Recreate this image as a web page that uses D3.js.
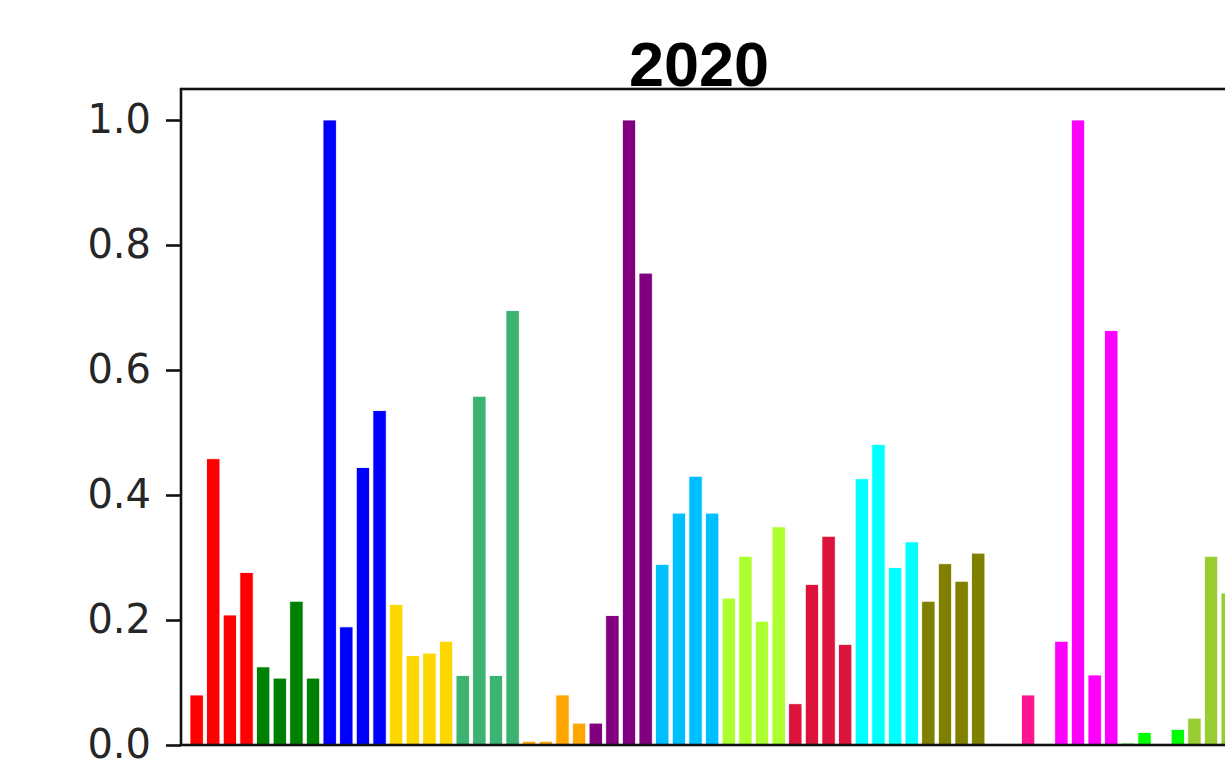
<!DOCTYPE html>
<html>
<head>
<meta charset="utf-8">
<script src="https://cdn.jsdelivr.net/npm/d3@7"></script>
<style>
	html, body { margin: 0; padding: 0; background: #fff; }
	svg { display: block; }
</style>
</head>
<body>
<svg id="bars" width="1225" height="767"></svg>
<script>
// 2020 values, four bars per colour group
var title = "2020";
var groupColors = ["red", "green", "blue", "gold", "mediumseagreen", "orange", "purple", "deepskyblue",
	"greenyellow", "crimson", "cyan", "olive", "deeppink", "magenta", "lime", "yellowgreen"];
var values = [
	0.080, 0.458, 0.208, 0.276,
	0.125, 0.107, 0.230, 0.107,
	1.000, 0.189, 0.444, 0.535,
	0.225, 0.143, 0.147, 0.166,
	0.111, 0.558, 0.111, 0.695,
	0.006, 0.006, 0.080, 0.035,
	0.035, 0.207, 1.000, 0.755,
	0.289, 0.371, 0.430, 0.371,
	0.235, 0.302, 0.198, 0.349,
	0.066, 0.257, 0.334, 0.161,
	0.426, 0.481, 0.284, 0.325,
	0.230, 0.290, 0.262, 0.307,
	0.000, 0.000, 0.080, 0.000,
	0.166, 1.000, 0.112, 0.663,
	0.003, 0.020, 0.000, 0.025,
	0.043, 0.302, 0.243
];
var yTicks = [0.0, 0.2, 0.4, 0.6, 0.8, 1.0];

var svg = d3.select("svg#bars"),
	margin = {
		top: 89,
		left: 181,
		bottom: 745
	},
	step = 16.63,
	right = 1245;

var x = d3.scaleLinear()
	.domain([-0.94, (right - margin.left) / step - 0.94])
	.range([margin.left, right]);

var y = d3.scaleLinear()
	.domain([0, 1])
	.range([margin.bottom, 120]);

var data = values.map(function(v, i) {
	return { index: i, value: v, color: groupColors[Math.floor(i / 4)] };
});

svg.append("g")
	.selectAll("rect")
	.data(data)
	.enter().append("rect")
	.attr("x", function(d) { return x(d.index - 0.4); })
	.attr("width", x(0.8) - x(0))
	.attr("y", function(d) { return y(d.value); })
	.attr("height", function(d) { return y(0) - y(d.value); })
	.style("fill", function(d) { return d.color; })
	.style("stroke", "#fff")
	.style("stroke-width", 0.8);

// frame
svg.append("rect")
	.attr("x", margin.left)
	.attr("y", margin.top)
	.attr("width", right - margin.left)
	.attr("height", margin.bottom - margin.top)
	.style("fill", "none")
	.style("stroke", "#111")
	.style("stroke-width", 2.6);

var yAxis = svg.append("g")
	.attr("transform", "translate(" + margin.left + ",0)")
	.call(d3.axisLeft(y).tickValues(yTicks).tickFormat(d3.format(".1f")).tickSize(15).tickPadding(15));

yAxis.select(".domain").remove();
yAxis.selectAll(".tick line")
	.style("stroke", "#111")
	.style("stroke-width", 2.6);
yAxis.selectAll(".tick text")
	.style("font-family", "'DejaVu Sans', sans-serif")
	.style("font-size", "40px")
	.style("fill", "#262626");

svg.append("text")
	.attr("x", 699)
	.attr("y", 86)
	.attr("text-anchor", "middle")
	.style("font-family", "'Liberation Sans', Arial, sans-serif")
	.style("font-weight", "bold")
	.style("font-size", "63px")
	.text(title);
</script>
</body>
</html>
